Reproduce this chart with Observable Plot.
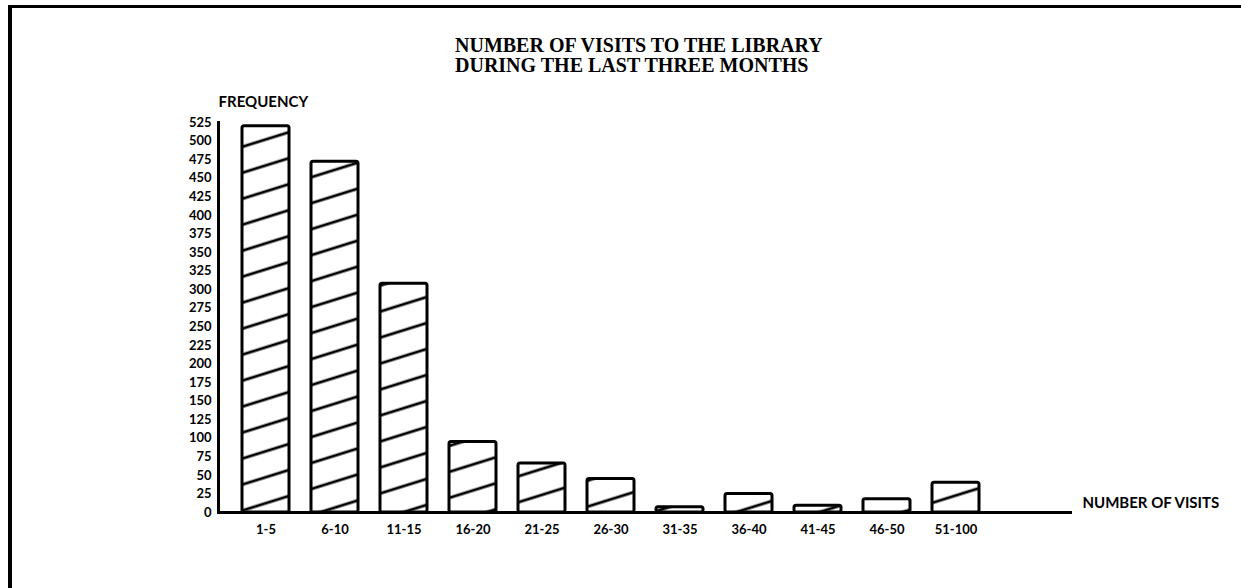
<!DOCTYPE html>
<html><head><meta charset="utf-8">
<script src="https://cdn.jsdelivr.net/npm/d3@7"></script>
<script src="https://cdn.jsdelivr.net/npm/@observablehq/plot@0.6"></script>
<style>
html,body{margin:0;padding:0;background:#fff;width:1241px;height:588px;overflow:hidden;position:relative}
#frame{position:absolute;left:8px;top:5px;width:1233px;height:583px;border-top:3px solid #000;border-left:4px solid #000;box-sizing:border-box}
#title{position:absolute;left:455px;top:35px;font-family:"Liberation Serif","Times New Roman",serif;font-weight:bold;font-size:20px;line-height:20px;color:#000;white-space:nowrap}
#chart{position:absolute;left:0;top:80px}
</style></head><body>
<div id="frame"></div>
<div id="title">NUMBER OF VISITS TO THE LIBRARY<br>DURING THE LAST THREE MONTHS</div>
<div id="chart"></div>
<script>
const categories = ["1-5","6-10","11-15","16-20","21-25","26-30","31-35","36-40","41-45","46-50","51-100"];
const frequencies = [520, 472, 308, 95, 66, 45, 7, 25, 9, 18, 40];
const yTicks = [0,25,50,75,100,125,150,175,200,225,250,275,300,325,350,375,400,425,450,475,500,525];
const yLabel = "FREQUENCY";
const xLabel = "NUMBER OF VISITS";

const data = categories.map((c, i) => ({visits: c, frequency: frequencies[i]}));

const chart = Plot.plot({
  width: 1241,
  height: 480,
  marginLeft: 218,
  marginRight: 169,
  marginTop: 42,
  marginBottom: 48,
  style: {fontFamily: "Lato, 'Liberation Sans', sans-serif", fontWeight: "bold", fontSize: "13px", color: "#000", background: "transparent"},
  x: {domain: categories, paddingInner: 0.312, paddingOuter: 0.7735, align: 0.204, label: null, tickSize: 0, tickPadding: 12},
  y: {domain: [0, 525], ticks: yTicks, label: null, tickSize: 0, tickPadding: 7},
  marks: [
    Plot.barY(data, {x: "visits", y: "frequency", fill: "url(#hatch)", stroke: "#000", strokeWidth: 3, rx: 2}),
    Plot.ruleY([0], {stroke: "#000", strokeWidth: 3}),
    Plot.frame({anchor: "left", stroke: "#000", strokeWidth: 3}),
    Plot.text([yLabel], {text: d => d, frameAnchor: "top-left", textAnchor: "start", dy: -26, fontSize: 15, fontWeight: "bold", fontFamily: "Lato, sans-serif"}),
    Plot.text([xLabel], {text: d => d, frameAnchor: "bottom-right", textAnchor: "start", dx: 10, dy: -5, fontSize: 15, fontWeight: "bold", fontFamily: "Lato, sans-serif"})
  ]
});

const svg = d3.select(chart);
const defs = svg.insert("defs", ":first-child");
const pat = defs.append("pattern")
  .attr("id", "hatch")
  .attr("patternUnits", "userSpaceOnUse")
  .attr("width", 20)
  .attr("height", 24.8)
  .attr("patternTransform", "rotate(-17.35)");
pat.append("rect").attr("width", 20).attr("height", 24.8).attr("fill", "#fff");
pat.append("line").attr("x1", -1).attr("x2", 21).attr("y1", 12).attr("y2", 12)
  .attr("stroke", "#000").attr("stroke-width", 2.8);

document.getElementById("chart").appendChild(chart);
</script>
</body></html>
